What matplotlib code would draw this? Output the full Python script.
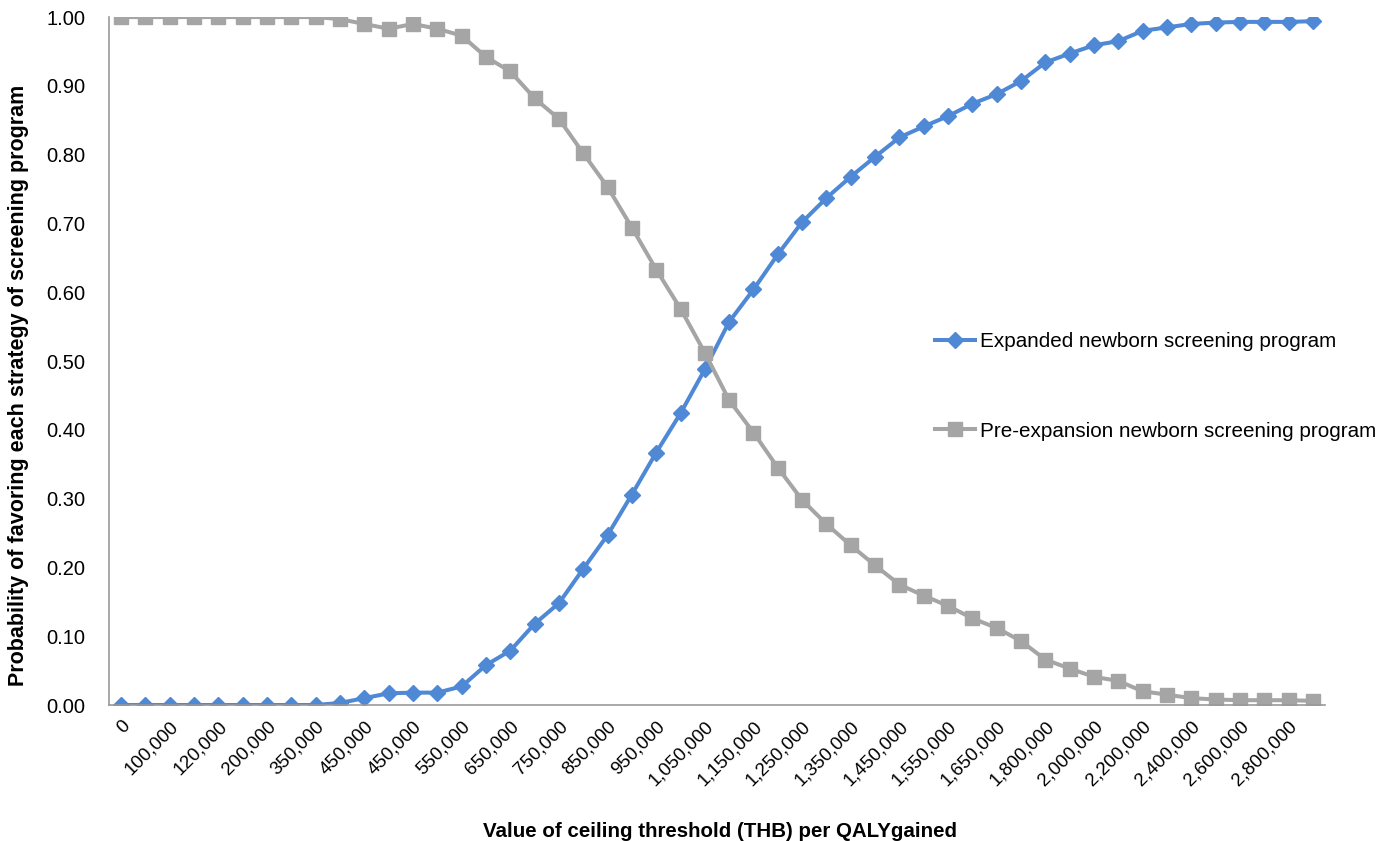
"""Cost-effectiveness acceptability curve"""

import matplotlib.pyplot as plt

plt.rcParams["font.family"] = ["Liberation Sans", "DejaVu Sans"]

# tick labels shown on every other category
TICK_LABELS = [
    "0", "100,000", "120,000", "200,000", "350,000", "450,000", "450,000",
    "550,000", "650,000", "750,000", "850,000", "950,000", "1,050,000",
    "1,150,000", "1,250,000", "1,350,000", "1,450,000", "1,550,000",
    "1,650,000", "1,800,000", "2,000,000", "2,200,000", "2,400,000",
    "2,600,000", "2,800,000",
]

expanded = [
    0.000, 0.000, 0.000, 0.000, 0.000, 0.000, 0.000, 0.000, 0.000, 0.003,
    0.010, 0.017, 0.018, 0.018, 0.027, 0.058, 0.079, 0.118, 0.148, 0.198,
    0.247, 0.306, 0.367, 0.424, 0.488, 0.557, 0.604, 0.655, 0.702, 0.737,
    0.768, 0.797, 0.825, 0.841, 0.856, 0.874, 0.888, 0.907, 0.934, 0.947,
    0.959, 0.965, 0.980, 0.985, 0.990, 0.992, 0.993, 0.993, 0.993, 0.994,
]

pre_expansion = [
    1.000, 1.000, 1.000, 1.000, 1.000, 1.000, 1.000, 1.000, 1.000, 0.997,
    0.990, 0.983, 0.990, 0.983, 0.973, 0.942, 0.921, 0.882, 0.852, 0.802,
    0.753, 0.694, 0.633, 0.576, 0.512, 0.443, 0.396, 0.345, 0.298, 0.263,
    0.232, 0.203, 0.175, 0.159, 0.144, 0.126, 0.112, 0.093, 0.066, 0.053,
    0.041, 0.035, 0.020, 0.015, 0.010, 0.008, 0.007, 0.007, 0.007, 0.006,
]

BLUE = "#4F88D4"
GREY = "#A5A5A5"

fig = plt.figure(figsize=(13.85, 8.41), dpi=100)
ax = fig.add_axes([0.0787, 0.1617, 0.8780, 0.8180])

x = list(range(len(expanded)))
ax.plot(x, expanded, color=BLUE, lw=2.9, marker="D", markersize=8.5,
        label="Expanded newborn screening program")
ax.plot(x, pre_expansion, color=GREY, lw=2.9, marker="s", markersize=10.5,
        label="Pre-expansion newborn screening program")

ax.set_xlim(-0.5, len(x) - 0.5)
ax.set_ylim(0, 1)
ax.set_yticks([i / 10 for i in range(11)])
ax.set_yticklabels([f"{i / 10:.2f}" for i in range(11)], fontsize=14.5)
ax.set_xticks(x[::2])
ax.set_xticklabels(TICK_LABELS, rotation=45, ha="right", va="top",
                   rotation_mode="anchor", fontsize=13.5)
ax.tick_params(length=0)
ax.tick_params(axis="y", pad=17)
ax.tick_params(axis="x", pad=9)

for side in ["top", "right"]:
    ax.spines[side].set_visible(False)
for side in ["left", "bottom"]:
    ax.spines[side].set_color("#999999")
    ax.spines[side].set_linewidth(1.2)

fig.text(0.013, 0.542,
         "Probability of favoring each strategy of screening program",
         rotation=90, ha="center", va="center", fontsize=15.5,
         fontweight="bold")
fig.text(0.5195, 0.0, "Value of ceiling threshold (THB) per QALYgained",
         ha="center", va="bottom", fontsize=14.8, fontweight="bold")

ax.legend(loc="center left", bbox_to_anchor=(0.679, 0.463), frameon=False,
          fontsize=14.9, labelspacing=3.4, handlelength=1.95,
          handletextpad=0.25, borderpad=0, borderaxespad=0)

fig.savefig("out.png", dpi=100)
